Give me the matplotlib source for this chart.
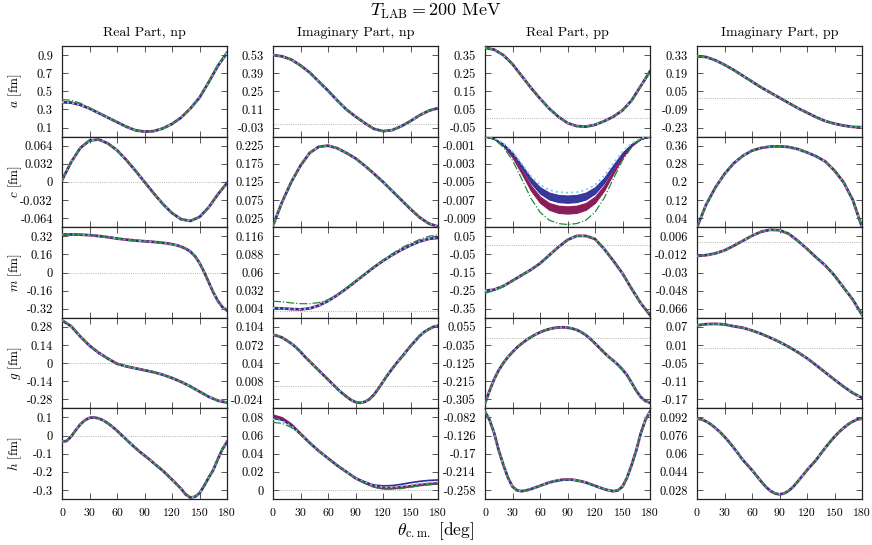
import matplotlib
matplotlib.use("Agg")
import matplotlib.pyplot as plt
import numpy as np

plt.rcParams["font.family"] = "serif"
plt.rcParams["font.serif"] = ["cmr10", "DejaVu Serif"]
plt.rcParams["mathtext.fontset"] = "cm"
plt.rcParams["axes.unicode_minus"] = False

# scattering angle in degrees (values read every 10 deg, or every 5 deg for curvy panels)
theta = np.arange(0, 181, 10)
theta5 = np.arange(0, 181, 5)

col_titles = ["Real Part, np", "Imaginary Part, np", "Real Part, pp", "Imaginary Part, pp"]
row_names = ["a", "c", "m", "g", "h"]

# ---- amplitude a
a_re_np = [0.38, 0.375, 0.35, 0.31, 0.26, 0.21, 0.16, 0.11, 0.07, 0.055,
           0.06, 0.09, 0.14, 0.21, 0.31, 0.43, 0.60, 0.78, 0.925]
a_re_np_green = [0.41, 0.40, 0.37, 0.32, 0.265, 0.21, 0.16, 0.11, 0.07, 0.055,
                 0.06, 0.09, 0.14, 0.21, 0.31, 0.43, 0.60, 0.79, 0.94]
a_im_np = [0.53, 0.52, 0.495, 0.45, 0.395, 0.325, 0.255, 0.18, 0.11, 0.055,
           0.005, -0.04, -0.058, -0.05, -0.02, 0.02, 0.065, 0.10, 0.12]
a_re_pp = [0.39, 0.38, 0.35, 0.30, 0.235, 0.17, 0.11, 0.055, 0.01, -0.025,
           -0.042, -0.045, -0.035, -0.015, 0.01, 0.045, 0.10, 0.18, 0.26]
a_im_pp = [0.32, 0.315, 0.29, 0.255, 0.215, 0.17, 0.125, 0.08, 0.04, 0.0,
           -0.04, -0.08, -0.115, -0.15, -0.18, -0.20, -0.215, -0.225, -0.228]

# ---- amplitude c
c_re_np = [0.003, 0.035, 0.06, 0.073, 0.075, 0.068, 0.056, 0.039, 0.02, 0.0,
           -0.02, -0.039, -0.055, -0.066, -0.069, -0.062, -0.045, -0.022, -0.002]
c_im_np = [0.005, 0.07, 0.125, 0.17, 0.205, 0.222, 0.225, 0.218, 0.205, 0.19,
           0.17, 0.148, 0.125, 0.10, 0.075, 0.05, 0.027, 0.01, 0.002]
c_re_pp_light = [0, -0.00019, -0.00074, -0.00167, -0.00298, -0.00434, -0.00533, -0.00589, -0.00614, -0.0062,
                 -0.00614, -0.00589, -0.00533, -0.00434, -0.00298, -0.00167, -0.00074, -0.00019, 0]
c_re_pp_blue_hi = [0, -0.0002, -0.00078, -0.00176, -0.00312, -0.00455, -0.00559, -0.00618, -0.00644, -0.0065,
                   -0.00644, -0.00618, -0.00559, -0.00455, -0.00312, -0.00176, -0.00078, -0.0002, 0]
c_re_pp_blue_lo = [0, -0.00022, -0.00088, -0.00197, -0.0035, -0.00511, -0.00628, -0.00694, -0.00723, -0.0073,
                   -0.00723, -0.00694, -0.00628, -0.00511, -0.0035, -0.00197, -0.00088, -0.00022, 0]
c_re_pp_red_hi = [0, -0.00023, -0.00092, -0.00208, -0.0037, -0.00539, -0.00662, -0.00732, -0.00762, -0.0077,
                  -0.00762, -0.00732, -0.00662, -0.00539, -0.0037, -0.00208, -0.00092, -0.00023, 0]
c_re_pp_red_lo = [0, -0.00026, -0.00102, -0.0023, -0.00408, -0.00595, -0.00731, -0.00808, -0.00842, -0.0085,
                  -0.00842, -0.00808, -0.00731, -0.00595, -0.00408, -0.0023, -0.00102, -0.00026, 0]
c_re_pp_green = [0, -0.00029, -0.00116, -0.00262, -0.00466, -0.00679, -0.00834, -0.00922, -0.0096, -0.0097,
                 -0.0096, -0.00922, -0.00834, -0.00679, -0.00466, -0.00262, -0.00116, -0.00029, 0]
c_im_pp = [0.0, 0.10, 0.175, 0.235, 0.282, 0.315, 0.338, 0.35, 0.356, 0.357,
           0.354, 0.345, 0.33, 0.313, 0.29, 0.25, 0.198, 0.12, 0.0]

# ---- amplitude m
m_re_np = [0.335, 0.336, 0.336, 0.335, 0.334, 0.332, 0.33, 0.326, 0.322, 0.317,
           0.312, 0.306, 0.30, 0.295, 0.29, 0.286, 0.282, 0.279, 0.276, 0.273,
           0.27, 0.266, 0.262, 0.257, 0.25, 0.241, 0.228, 0.21, 0.185, 0.145,
           0.085, 0.005, -0.085, -0.175, -0.25, -0.305, -0.335]
m_im_np = [0.005, 0.0045, 0.0035, 0.003, 0.0045, 0.009, 0.016, 0.025, 0.035, 0.046,
           0.057, 0.068, 0.078, 0.087, 0.095, 0.102, 0.108, 0.112, 0.1135]
m_im_np_green = [0.0155, 0.0148, 0.013, 0.0118, 0.0118, 0.0135, 0.018, 0.026, 0.036, 0.047,
                 0.058, 0.069, 0.079, 0.089, 0.098, 0.105, 0.111, 0.116, 0.118]
m_re_pp = [-0.25, -0.245, -0.225, -0.195, -0.165, -0.135, -0.10, -0.055, -0.01, 0.03,
           0.052, 0.052, 0.035, -0.02, -0.085, -0.155, -0.24, -0.32, -0.385]
m_re_pp_green = [-0.265, -0.25, -0.226, -0.195, -0.165, -0.135, -0.10, -0.055, -0.01, 0.03,
                 0.052, 0.052, 0.035, -0.02, -0.085, -0.155, -0.24, -0.32, -0.39]
m_im_pp = [-0.0135, -0.0128, -0.011, -0.008, -0.0035, 0.0015, 0.0065, 0.0105, 0.0125, 0.012,
           0.0085, 0.0015, -0.0065, -0.015, -0.023, -0.033, -0.045, -0.057, -0.072]

# ---- amplitude g
g_re_np = [0.33, 0.285, 0.205, 0.135, 0.08, 0.035, -0.005, -0.025, -0.04, -0.055,
           -0.07, -0.09, -0.115, -0.145, -0.18, -0.22, -0.26, -0.29, -0.305]
g_im_np = [0.09, 0.088, 0.085, 0.08, 0.0745, 0.068, 0.06, 0.051, 0.043, 0.035,
           0.027, 0.019, 0.011, 0.003, -0.005, -0.0125, -0.019, -0.025, -0.0288, -0.0302,
           -0.0285, -0.024, -0.016, -0.005, 0.007, 0.019, 0.03, 0.0405, 0.05, 0.06,
           0.07, 0.079, 0.088, 0.095, 0.1, 0.104, 0.106]
g_re_pp = [-0.325, -0.262, -0.205, -0.16, -0.125, -0.095, -0.07, -0.047, -0.028, -0.011,
           0.004, 0.017, 0.028, 0.037, 0.044, 0.049, 0.052, 0.053, 0.051, 0.047,
           0.04, 0.029, 0.014, -0.005, -0.027, -0.05, -0.073, -0.094, -0.113, -0.133,
           -0.157, -0.185, -0.223, -0.262, -0.294, -0.313, -0.322]
g_im_pp = [0.075, 0.079, 0.08, 0.078, 0.072, 0.067, 0.058, 0.047, 0.034, 0.02,
           0.004, -0.014, -0.034, -0.057, -0.081, -0.105, -0.128, -0.149, -0.165]

# ---- amplitude h
h_re_np = [-0.033, -0.03, -0.005, 0.03, 0.062, 0.085, 0.098, 0.1, 0.095, 0.084,
           0.068, 0.049, 0.027, 0.003, -0.021, -0.045, -0.068, -0.09, -0.11, -0.13,
           -0.152, -0.173, -0.194, -0.218, -0.243, -0.268, -0.294, -0.325, -0.342, -0.338,
           -0.318, -0.278, -0.232, -0.19, -0.13, -0.075, -0.035]
h_im_np = [0.082, 0.079, 0.072, 0.062, 0.052, 0.043, 0.035, 0.027, 0.02, 0.013,
           0.008, 0.004, 0.002, 0.002, 0.003, 0.004, 0.0055, 0.0065, 0.0073]
h_im_np_blue = [0.079, 0.077, 0.071, 0.0615, 0.052, 0.043, 0.035, 0.027, 0.02, 0.013,
                0.009, 0.0055, 0.0045, 0.0048, 0.0062, 0.008, 0.0095, 0.0105, 0.011]
h_im_np_light = [0.078, 0.076, 0.0705, 0.0615, 0.052, 0.043, 0.035, 0.027, 0.02, 0.013,
                 0.0085, 0.005, 0.003, 0.003, 0.004, 0.0055, 0.007, 0.008, 0.009]
h_im_np_green = [0.0745, 0.0735, 0.069, 0.061, 0.052, 0.043, 0.035, 0.027, 0.02, 0.013,
                 0.0075, 0.003, 0.001, 0.0008, 0.0015, 0.003, 0.0045, 0.0058, 0.0065]
h_re_pp = [-0.068, -0.088, -0.12, -0.162, -0.197, -0.228, -0.25, -0.259, -0.261, -0.259,
           -0.256, -0.252, -0.248, -0.244, -0.24, -0.237, -0.235, -0.233, -0.233, -0.233,
           -0.235, -0.237, -0.24, -0.244, -0.248, -0.252, -0.256, -0.259, -0.261, -0.259,
           -0.25, -0.228, -0.197, -0.162, -0.12, -0.088, -0.068]
h_im_pp = [0.091, 0.0903, 0.0885, 0.086, 0.0828, 0.0792, 0.075, 0.0703, 0.0653, 0.06,
           0.0545, 0.05, 0.0455, 0.0405, 0.0355, 0.0308, 0.0272, 0.0249, 0.0241, 0.0249,
           0.0272, 0.0308, 0.0355, 0.0405, 0.0455, 0.05, 0.0545, 0.06, 0.0653, 0.0703,
           0.075, 0.0792, 0.0828, 0.086, 0.0885, 0.0903, 0.091]

# y tick values for every panel (rows a, c, m, g, h)
yticks = [
    [[0.1, 0.3, 0.5, 0.7, 0.9], [-0.03, 0.11, 0.25, 0.39, 0.53],
     [-0.05, 0.05, 0.15, 0.25, 0.35], [-0.23, -0.09, 0.05, 0.19, 0.33]],
    [[-0.064, -0.032, 0, 0.032, 0.064], [0.025, 0.075, 0.125, 0.175, 0.225],
     [-0.009, -0.007, -0.005, -0.003, -0.001], [0.04, 0.12, 0.2, 0.28, 0.36]],
    [[-0.32, -0.16, 0, 0.16, 0.32], [0.004, 0.032, 0.06, 0.088, 0.116],
     [-0.35, -0.25, -0.15, -0.05, 0.05], [-0.066, -0.048, -0.03, -0.012, 0.006]],
    [[-0.28, -0.14, 0, 0.14, 0.28], [-0.024, 0.008, 0.04, 0.072, 0.104],
     [-0.305, -0.215, -0.125, -0.035, 0.055], [-0.17, -0.11, -0.05, 0.01, 0.07]],
    [[-0.3, -0.2, -0.1, 0, 0.1], [0, 0.02, 0.04, 0.06, 0.08],
     [-0.258, -0.214, -0.17, -0.126, -0.082], [0.028, 0.044, 0.06, 0.076, 0.092]],
]
xticks = [0, 30, 60, 90, 120, 150, 180]

# series per panel: red band, blue band, light blue dotted, green dash-dot
panels = [
    [dict(main=a_re_np, green=a_re_np_green), dict(main=a_im_np),
     dict(main=a_re_pp), dict(main=a_im_pp)],
    [dict(main=c_re_np), dict(main=c_im_np), None, dict(main=c_im_pp)],
    [dict(main=m_re_np, x=theta5), dict(main=m_im_np, green=m_im_np_green),
     dict(main=m_re_pp, green=m_re_pp_green), dict(main=m_im_pp)],
    [dict(main=g_re_np), dict(main=g_im_np, x=theta5),
     dict(main=g_re_pp, x=theta5), dict(main=g_im_pp)],
    [dict(main=h_re_np, x=theta5),
     dict(main=h_im_np, blue=h_im_np_blue, light=h_im_np_light, green=h_im_np_green),
     dict(main=h_re_pp, x=theta5), dict(main=h_im_pp, x=theta5)],
]

RED = "#8a1d57"
BLUE = "#2d2d99"
LIGHT = "#86c8f0"
GREEN = "#238a3a"


def fmt(v):
    return "%g" % (round(v, 6) + 0.0)


def draw_lines(ax, p):
    x = p.get("x", theta)
    main = p["main"]
    ax.plot(x, main, color=RED, lw=2.0, zorder=3)
    ax.plot(x, p.get("blue", main), color=BLUE, lw=1.2, zorder=4)
    ax.plot(x, p.get("light", main), color=LIGHT, lw=1.4, ls=":", zorder=5)
    ax.plot(x, p.get("green", main), color=GREEN, lw=0.9, ls="-.", zorder=6)


def draw_c_re_pp(ax):
    ax.fill_between(theta, c_re_pp_red_lo, c_re_pp_red_hi, color=RED, lw=0.8, zorder=3)
    ax.fill_between(theta, c_re_pp_blue_lo, c_re_pp_blue_hi, color=BLUE, lw=0.8,
                    alpha=0.95, zorder=4)
    ax.plot(theta, c_re_pp_light, color=LIGHT, lw=1.4, ls=":", zorder=5)
    ax.plot(theta, c_re_pp_green, color=GREEN, lw=0.9, ls="-.", zorder=6)


W, H = 872, 545
fig = plt.figure(figsize=(W / 100, H / 100), dpi=100)

lefts = [62, 273, 485, 697]
ax_w = 165
top0 = 46
ax_h = 90.6

for r in range(5):
    for c in range(4):
        top = top0 + r * ax_h
        ax = fig.add_axes([lefts[c] / W, 1 - (top + ax_h) / H, ax_w / W, ax_h / H])
        t = yticks[r][c]
        step = t[1] - t[0]
        ax.set_ylim(t[0] - step / 2, t[-1] + step / 2)
        ax.set_xlim(0, 180)
        ax.axhline(0, color="#9a9a9a", lw=0.6, ls=":", zorder=1)

        if panels[r][c] is None:
            draw_c_re_pp(ax)
        else:
            draw_lines(ax, panels[r][c])

        ax.set_yticks(t)
        ax.set_yticklabels([fmt(v) for v in t])
        ax.set_xticks(xticks)
        if r == 4:
            ax.set_xticklabels([str(v) for v in xticks])
        else:
            ax.set_xticklabels([])
        ax.tick_params(direction="in", top=True, right=True, length=4.5, width=0.7,
                       color="#555555", pad=6.5)
        ax.tick_params(axis="y", labelsize=9)
        ax.tick_params(axis="x", labelsize=8.5)
        for s in ax.spines.values():
            s.set_color("#222222")
            s.set_linewidth(0.9)

        if r == 0:
            ax.set_title(col_titles[c], fontsize=10, pad=7)
        if c == 0:
            fig.text(15 / W, 1 - (top + ax_h / 2) / H, "$%s$ [fm]" % row_names[r],
                     rotation=90, ha="center", va="center", fontsize=9.5)

fig.text(436 / W, 1 - 11 / H, r"$T_{\rm LAB} = 200$ MeV", ha="center", va="center", fontsize=13)
fig.text(436 / W, 1 - 531 / H, r"$\theta_{\rm c.m.}$ [deg]", ha="center", va="center", fontsize=12.5)

fig.savefig("out.png", dpi=100)
